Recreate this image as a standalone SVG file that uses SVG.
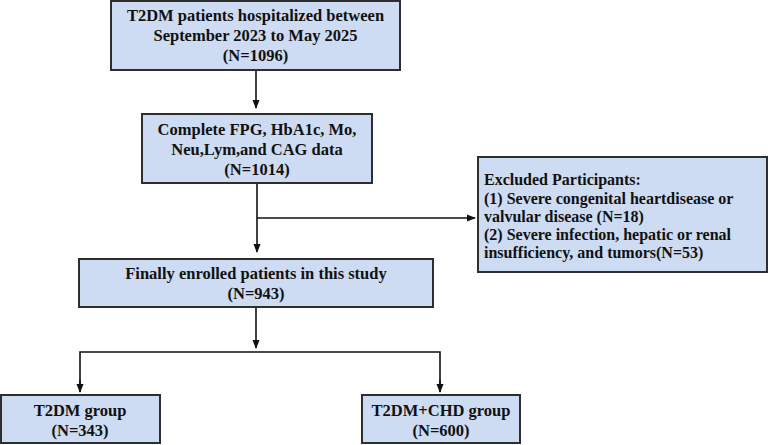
<svg xmlns="http://www.w3.org/2000/svg" width="768" height="445" viewBox="0 0 768 445">
<style>
.box{fill:#cddcf2;stroke:#2e2e2e;stroke-width:2}
.t{font-family:"Liberation Serif","Times New Roman",serif;font-weight:bold;font-size:16.5px;fill:#111}
.e{font-size:16px}
.c{text-anchor:middle}
.ln{fill:none;stroke:#111;stroke-width:1.6}
</style>
<defs>
<marker id="a" viewBox="0 0 10 10" refX="9" refY="5" markerWidth="9" markerHeight="9" orient="auto" markerUnits="userSpaceOnUse">
<path d="M0,1 L10,5 L0,9 z" fill="#111"/>
</marker>
</defs>
<rect width="768" height="445" fill="#ffffff"/>
<g id="connectors">
<line class="ln" x1="256" y1="70" x2="256" y2="108" marker-end="url(#a)"/>
<line class="ln" x1="257" y1="183" x2="257" y2="252" marker-end="url(#a)"/>
<line class="ln" x1="257" y1="218" x2="475" y2="218" marker-end="url(#a)"/>
<line class="ln" x1="256" y1="307" x2="256" y2="348" marker-end="url(#a)"/>
<polyline class="ln" points="80,392 80,352 440,352 440,392"/>
<line class="ln" x1="80" y1="380" x2="80" y2="392" marker-end="url(#a)"/>
<line class="ln" x1="440" y1="380" x2="440" y2="392" marker-end="url(#a)"/>
</g>
<g id="n1">
<rect class="box" x="111" y="1" width="289" height="69"/>
<text class="t c" x="255.5" y="21">T2DM patients hospitalized between</text>
<text class="t c" x="255.5" y="41">September 2023 to May 2025</text>
<text class="t c" x="255.5" y="61">(N=1096)</text>
</g>
<g id="n2">
<rect class="box" x="142" y="114" width="230" height="69"/>
<text class="t c" x="257" y="135">Complete FPG, HbA1c, Mo,</text>
<text class="t c" x="257" y="155">Neu,Lym,and CAG data</text>
<text class="t c" x="257" y="175">(N=1014)</text>
</g>
<g id="n_excluded">
<rect class="box" x="478" y="157" width="289" height="115"/>
<text class="t e" x="484" y="185">Excluded Participants:</text>
<text class="t e" x="484" y="204">(1) Severe congenital heartdisease or</text>
<text class="t e" x="484" y="222">valvular disease (N=18)</text>
<text class="t e" x="484" y="240">(2) Severe infection, hepatic or renal</text>
<text class="t e" x="484" y="258">insufficiency, and tumors(N=53)</text>
</g>
<g id="n3">
<rect class="box" x="79" y="259" width="354" height="48"/>
<text class="t c" x="256" y="279">Finally enrolled patients in this study</text>
<text class="t c" x="256" y="299">(N=943)</text>
</g>
<g id="n_t2dm">
<rect class="box" x="1" y="395" width="159" height="48"/>
<text class="t c" x="80" y="416">T2DM group</text>
<text class="t c" x="80" y="436">(N=343)</text>
</g>
<g id="n_chd">
<rect class="box" x="362" y="395" width="158" height="48"/>
<text class="t c" x="441" y="416">T2DM+CHD group</text>
<text class="t c" x="441" y="436">(N=600)</text>
</g>
</svg>
